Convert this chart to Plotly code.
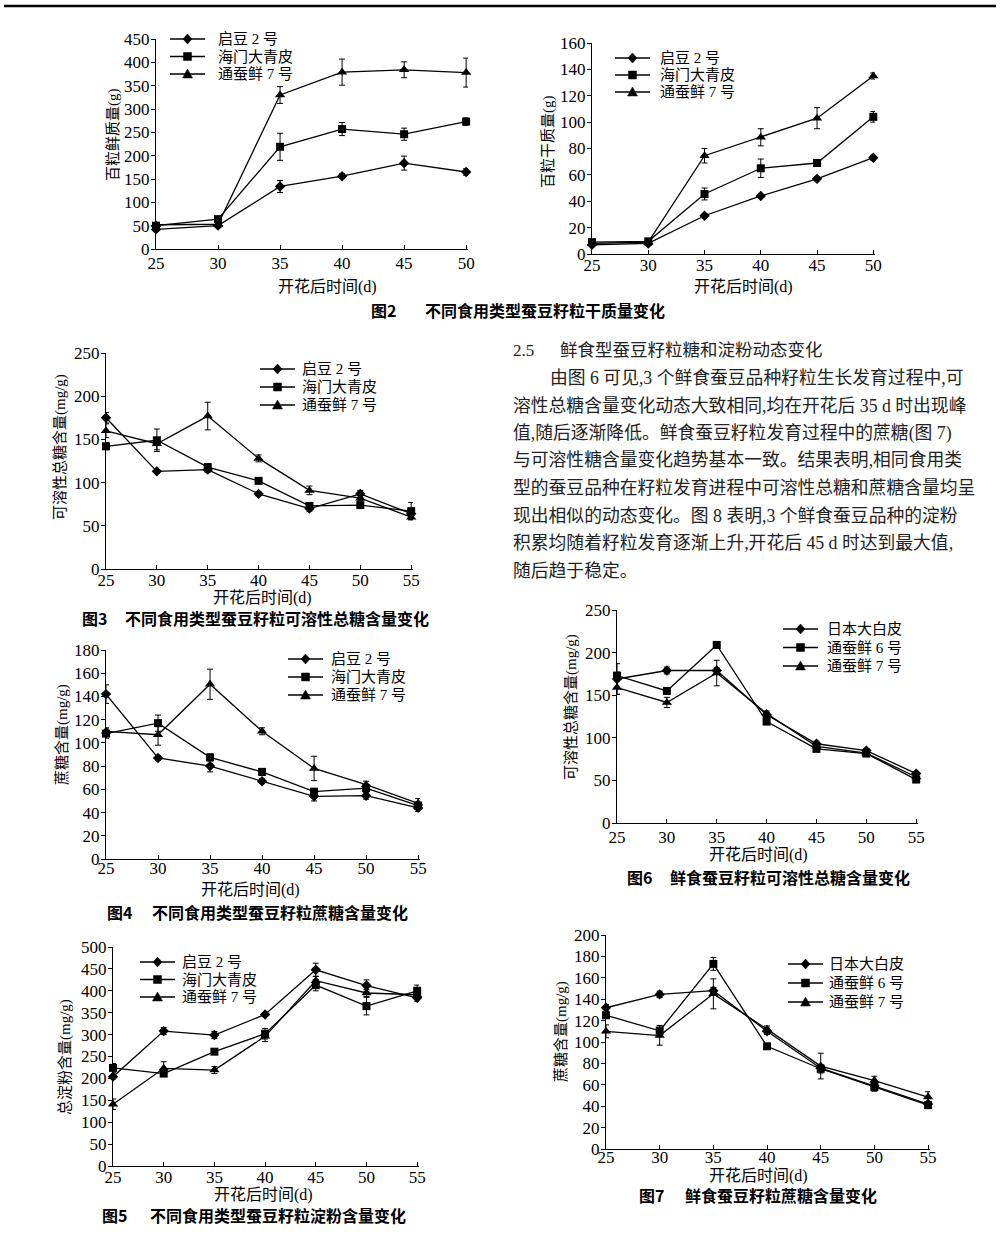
import plotly.graph_objects as go

W, H = 1000, 1246

# ---------------- data ----------------
days6 = [25, 30, 35, 40, 45, 50]
days7 = [25, 30, 35, 40, 45, 50, 55]

names_a = ["启豆 2 号", "海门大青皮", "通蚕鲜 7 号"]
names_b = ["日本大白皮", "通蚕鲜 6 号", "通蚕鲜 7 号"]

# Fig2 left: 百粒鲜质量(g)
fw_qidou2 = [42, 50, 134, 156, 184, 165]
fw_qidou2_err = [3, 4, 13, 5, 15, 7]
fw_haimen = [50, 64, 219, 257, 246, 273]
fw_haimen_err = [3, 3, 29, 14, 13, 8]
fw_tongcan7 = [52, 53, 330, 379, 384, 378]
fw_tongcan7_err = [3, 3, 18, 28, 17, 31]

# Fig2 right: 百粒干质量(g)
dw_qidou2 = [7, 8, 29, 44, 57, 73]
dw_qidou2_err = [1, 1, 1.5, 1, 1.5, 2]
dw_haimen = [9, 9.6, 45.5, 65, 69, 104]
dw_haimen_err = [1, 1, 4.5, 7, 2, 4]
dw_tongcan7 = [8, 9, 74.5, 88.5, 103, 135]
dw_tongcan7_err = [1, 1, 5.5, 6.5, 8, 2.3]

# Fig3: 可溶性总糖含量(mg/g)
ss_qidou2 = [175, 113, 115, 87, 70, 87, 64]
ss_qidou2_err = [6, 2, 3, 2, 3, 4, 4]
ss_haimen = [142, 149, 118, 102, 73, 74, 67]
ss_haimen_err = [4, 13, 3, 3, 3, 3, 10]
ss_tongcan7 = [160, 145, 177, 128, 91, 82, 60]
ss_tongcan7_err = [8, 7, 16, 4, 5, 3, 3]

# Fig4: 蔗糖含量(mg/g)
su_qidou2 = [142, 87, 80, 67, 54, 54.5, 44]
su_qidou2_err = [8, 2, 5, 2, 4, 3, 3]
su_haimen = [108, 117, 87.5, 75, 58, 61, 46]
su_haimen_err = [4, 7, 3, 3, 2, 3, 3]
su_tongcan7 = [110, 107, 150.5, 110, 78, 64, 48]
su_tongcan7_err = [3, 9, 13, 3, 10.5, 3, 4]

# Fig5: 总淀粉含量(mg/g)
st_qidou2 = [204, 308, 299, 346, 448, 412, 384]
st_qidou2_err = [5, 8, 8, 4, 15, 13, 8]
st_haimen = [224, 211, 261, 302, 413, 365, 400]
st_haimen_err = [10, 5, 4, 12, 13, 20, 13]
st_tongcan7 = [141, 223, 219, 296, 423, 395, 391]
st_tongcan7_err = [12, 15, 8, 12, 10, 8, 8]

# Fig6: 可溶性总糖含量(mg/g) (鲜食)
f6_riben = [169, 179, 179, 127, 93, 85, 58]
f6_riben_err = [18, 4, 3, 3, 3, 2, 2]
f6_tongcan6 = [173, 155, 209, 119, 87, 81.5, 51]
f6_tongcan6_err = [4, 3, 2, 3, 3, 2, 2]
f6_tongcan7 = [159, 141.5, 176, 128.5, 90, 82, 54]
f6_tongcan7_err = [8, 6, 15, 3, 3, 2, 3]

# Fig7: 蔗糖含量(mg/g) (鲜食)
f7_riben = [132, 144.5, 148, 110, 75.5, 59, 42]
f7_riben_err = [3, 3, 3, 3, 3, 3, 2]
f7_tongcan6 = [125, 110.5, 173, 96, 75, 58, 41]
f7_tongcan6_err = [3, 5, 6, 2, 4, 4, 2]
f7_tongcan7 = [110, 106, 145, 112, 77.5, 64, 48.5]
f7_tongcan7_err = [6, 9, 14, 3, 12, 4, 5]

cap_labels = ["图2", "图3", "图4", "图5", "图6", "图7"]
cap_titles = [
    "不同食用类型蚕豆籽粒干质量变化",
    "不同食用类型蚕豆籽粒可溶性总糖含量变化",
    "不同食用类型蚕豆籽粒蔗糖含量变化",
    "不同食用类型蚕豆籽粒淀粉含量变化",
    "鲜食蚕豆籽粒可溶性总糖含量变化",
    "鲜食蚕豆籽粒蔗糖含量变化",
]

heading_num = "2.5"
heading_text = "鲜食型蚕豆籽粒糖和淀粉动态变化"
paragraph = [
    "由图 6 可见,3 个鲜食蚕豆品种籽粒生长发育过程中,可",
    "溶性总糖含量变化动态大致相同,均在开花后 35 d 时出现峰",
    "值,随后逐渐降低。鲜食蚕豆籽粒发育过程中的蔗糖(图 7)",
    "与可溶性糖含量变化趋势基本一致。结果表明,相同食用类",
    "型的蚕豆品种在籽粒发育进程中可溶性总糖和蔗糖含量均呈",
    "现出相似的动态变化。图 8 表明,3 个鲜食蚕豆品种的淀粉",
    "积累均随着籽粒发育逐渐上升,开花后 45 d 时达到最大值,",
    "随后趋于稳定。",
]

x_title = "开花后时间(d)"

# ---------------- panel layout (pixels) ----------------
# box = (x_left, x_right, y_top, y_bottom); leg = (line_start, text_start, first_row_y, row_step)
# cap = (label_x, title_x, y, caption index)
panels = [
    dict(x=days6, names=names_a, ytitle="百粒鲜质量(g)",
         series=[(fw_qidou2, fw_qidou2_err), (fw_haimen, fw_haimen_err), (fw_tongcan7, fw_tongcan7_err)],
         box=(156, 468, 39, 249), xr=(25, 50), yr=(0, 450), dy=50, xstand=-2,
         ytpos=(113, 135), xtpos=(327, 287), leg=(170, 216, 39, 17.5), cap=(369, 423, 310, 0)),
    dict(x=days6, names=names_a, ytitle="百粒干质量(g)",
         series=[(dw_qidou2, dw_qidou2_err), (dw_haimen, dw_haimen_err), (dw_tongcan7, dw_tongcan7_err)],
         box=(592, 875, 43, 254), xr=(25, 50), yr=(0, 160), dy=20, xstand=-5,
         ytpos=(548, 142), xtpos=(743, 287), leg=(615, 658, 58, 17), cap=None),
    dict(x=days7, names=names_a, ytitle="可溶性总糖含量(mg/g)",
         series=[(ss_qidou2, ss_qidou2_err), (ss_haimen, ss_haimen_err), (ss_tongcan7, ss_tongcan7_err)],
         box=(106, 413, 353, 569), xr=(25, 55), yr=(0, 250), dy=50, xstand=-5,
         ytpos=(61, 447), xtpos=(262, 598), leg=(260, 300, 369, 18), cap=(80, 123, 618, 1)),
    dict(x=days7, names=names_a, ytitle="蔗糖含量(mg/g)",
         series=[(su_qidou2, su_qidou2_err), (su_haimen, su_haimen_err), (su_tongcan7, su_tongcan7_err)],
         box=(106, 420, 650, 859), xr=(25, 55), yr=(0, 180), dy=20, xstand=-7,
         ytpos=(62, 735), xtpos=(250, 890), leg=(288, 329, 659, 18), cap=(105, 150, 912, 2)),
    dict(x=days7, names=names_a, ytitle="总淀粉含量(mg/g)",
         series=[(st_qidou2, st_qidou2_err), (st_haimen, st_haimen_err), (st_tongcan7, st_tongcan7_err)],
         box=(113, 419, 947, 1166), xr=(25, 55), yr=(0, 500), dy=50, xstand=-5,
         ytpos=(65, 1057), xtpos=(263, 1195), leg=(140, 180, 962, 17.5), cap=(100, 148, 1215, 3)),
    dict(x=days7, names=names_b, ytitle="可溶性总糖含量(mg/g)",
         series=[(f6_riben, f6_riben_err), (f6_tongcan6, f6_tongcan6_err), (f6_tongcan7, f6_tongcan7_err)],
         box=(617, 918, 610, 823), xr=(25, 55), yr=(0, 250), dy=50, xstand=-2,
         ytpos=(571, 707), xtpos=(758, 855), leg=(783, 825, 629, 18.5), cap=(625, 668, 877, 4)),
    dict(x=days7, names=names_b, ytitle="蔗糖含量(mg/g)",
         series=[(f7_riben, f7_riben_err), (f7_tongcan6, f7_tongcan6_err), (f7_tongcan7, f7_tongcan7_err)],
         box=(606, 930, 935, 1149), xr=(25, 55), yr=(0, 200), dy=20, xstand=-8,
         ytpos=(561, 1032), xtpos=(758, 1176), leg=(788, 827, 964, 19), cap=(637, 683, 1195, 5)),
]

symbols = ["diamond", "square", "triangle-up"]
msizes = [8, 8, 9]

MIX = "Liberation Serif, Noto Sans CJK SC, serif"
CJK = "Noto Sans CJK SC, sans-serif"


def px(x):
    return x / W


def py(y):
    return 1 - y / H


def key_path(kind, cx, cy):
    """Legend-key marker outline (paper coords) centred on a pixel point."""
    if kind == 0:
        pts = [(cx, cy - 5), (cx + 4.5, cy), (cx, cy + 5), (cx - 4.5, cy)]
    elif kind == 1:
        pts = [(cx - 4, cy - 4), (cx + 4, cy - 4), (cx + 4, cy + 4), (cx - 4, cy + 4)]
    else:
        pts = [(cx, cy - 5), (cx + 5, cy + 4), (cx - 5, cy + 4)]
    return "M " + " L ".join(f"{px(a):.5f},{py(b):.5f}" for a, b in pts) + " Z"


def note(text, x, y, size, family=MIX, xanchor="left", angle=0, color="black"):
    return dict(text=text, x=px(x), y=py(y), xref="paper", yref="paper", showarrow=False,
                xanchor=xanchor, yanchor="middle", textangle=angle,
                font=dict(family=family, size=size, color=color))


fig = go.Figure()
layout = dict(
    template="none",
    width=W, height=H, margin=dict(l=0, r=0, t=0, b=0, pad=0, autoexpand=False),
    paper_bgcolor="white", plot_bgcolor="white",
    showlegend=False, annotations=[], shapes=[],
)

for i, p in enumerate(panels):
    k = "" if i == 0 else str(i + 1)
    x0, x1, y0, y1 = p["box"]
    xspan = p["xr"][1] - p["xr"][0]
    layout["xaxis" + k] = dict(
        domain=[px(x0), px(x1)], range=[p["xr"][0], p["xr"][1] + 0.006 * xspan],
        anchor="y" + k, tickvals=p["x"], showline=True, linecolor="black", linewidth=1.3,
        ticks="inside", ticklen=4, tickwidth=1, tickcolor="black", showgrid=False, zeroline=False,
        automargin=False, ticklabelstandoff=p["xstand"],
        tickfont=dict(family=MIX, size=17, color="black"),
    )
    layout["yaxis" + k] = dict(
        domain=[py(y1), py(y0)], range=list(p["yr"]), dtick=p["dy"], tick0=0,
        anchor="x" + k, showline=True, linecolor="black", linewidth=1.3,
        ticks="outside", ticklen=4, tickwidth=1, tickcolor="black", showgrid=False, zeroline=False,
        automargin=False, ticklabelstandoff=-2,
        tickfont=dict(family=MIX, size=17, color="black"),
    )
    for j, (vals, errs) in enumerate(p["series"]):
        fig.add_trace(go.Scatter(
            x=p["x"], y=vals, mode="lines+markers", name=p["names"][j],
            xaxis="x" + k, yaxis="y" + k, cliponaxis=False,
            line=dict(color="black", width=1.3),
            marker=dict(symbol=symbols[j], size=msizes[j], color="black"),
            error_y=dict(type="data", array=errs, visible=True, color="black", thickness=1, width=3),
        ))
    # legend (key line + marker + label)
    ls, ts, r0, rs = p["leg"]
    for j, nm in enumerate(p["names"]):
        ry = r0 + j * rs
        layout["shapes"].append(dict(type="line", xref="paper", yref="paper",
                                     x0=px(ls), x1=px(ls + 35), y0=py(ry), y1=py(ry),
                                     line=dict(color="black", width=1.3)))
        layout["shapes"].append(dict(type="path", xref="paper", yref="paper",
                                     path=key_path(j, ls + 17.5, ry),
                                     fillcolor="black", line=dict(color="black", width=0.5)))
        layout["annotations"].append(note(nm, ts, ry, 15))
    # axis titles
    tx, ty = p["ytpos"]
    layout["annotations"].append(note(p["ytitle"], tx, ty, 15, xanchor="center", angle=-90))
    tx, ty = p["xtpos"]
    layout["annotations"].append(note(x_title, tx, ty, 16, xanchor="center"))
    if p["cap"] is not None:
        lx, tx, cy, ci = p["cap"]
        layout["annotations"].append(note("<b>" + cap_labels[ci] + "</b>", lx, cy, 16, family=CJK))
        layout["annotations"].append(note("<b>" + cap_titles[ci] + "</b>", tx, cy, 16, family=CJK))

# section heading + paragraph
layout["annotations"].append(note(heading_num, 511, 350, 17, color="#222"))
layout["annotations"].append(note(heading_text, 558, 350, 17.5, color="#222"))
line_y = [378, 406, 433, 460, 488, 516, 543, 571]
for li, (txt, ly) in enumerate(zip(paragraph, line_y)):
    layout["annotations"].append(note(txt, 548 if li == 0 else 511, ly, 17.8, color="#222"))

# top rule
layout["shapes"].append(dict(type="line", xref="paper", yref="paper",
                             x0=px(4), x1=px(996), y0=py(6), y1=py(6),
                             line=dict(color="black", width=2.5)))

fig.update_layout(**layout)
fig.write_html("out.html", config={"displayModeBar": False},
               post_script="document.body.style.margin='0px';document.body.style.padding='0px';")
